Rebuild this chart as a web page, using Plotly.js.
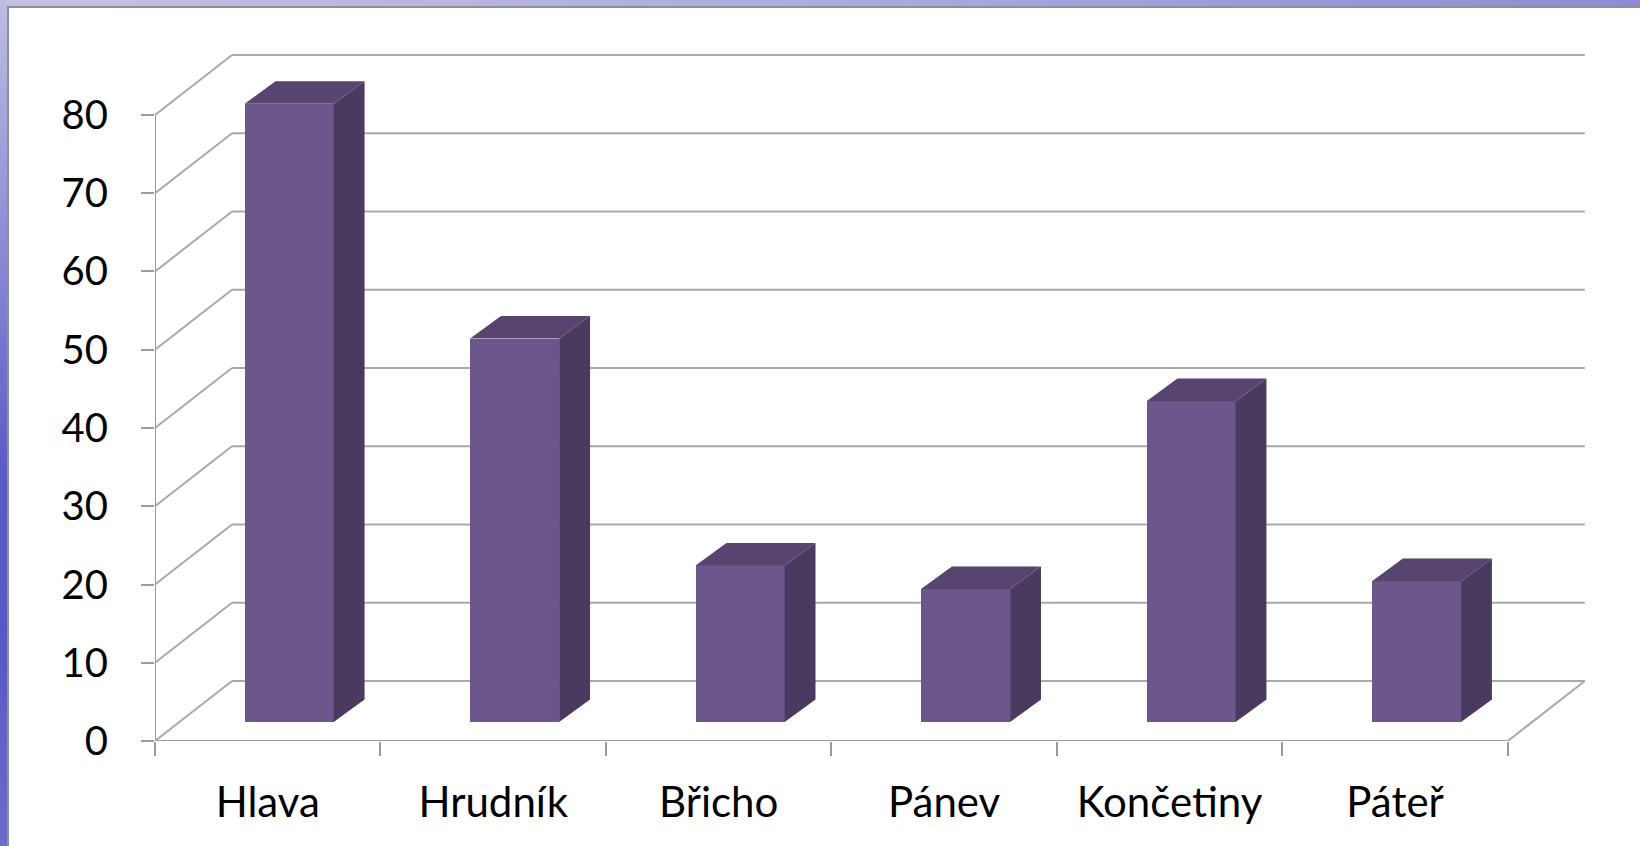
<!DOCTYPE html>
<html>
<head>
<meta charset="utf-8">
<script src="https://cdn.plot.ly/plotly-3.0.1.min.js"></script>
<style>
  html, body { margin: 0; padding: 0; width: 1640px; height: 846px; overflow: hidden; }
  body { position: relative; background: linear-gradient(to right, #c2c2e3 0%, #acacde 50%, #8c8cd5 100%); }
  #leftstrip { position: absolute; left: 0; top: 0; width: 8px; height: 846px;
    background: linear-gradient(to bottom, #bdbde2 0%, #8a8ad6 30%, #5c5cc6 55%, #5858c4 75%, #6c6ccc 100%); }
  #panel { position: absolute; left: 7px; top: 6px; right: 0; bottom: 0; background: #ffffff;
    border-left: 2px solid #8e8e96; border-top: 2px solid #8e8e96; }
  #chart { position: absolute; left: 0; top: 0; width: 1640px; height: 846px; }
</style>
</head>
<body>
<div id="leftstrip"></div>
<div id="panel"></div>
<div id="chart"></div>
<script>
// ---- data ----
const categories = ["Hlava", "Hrudník", "Břicho", "Pánev", "Končetiny", "Páteř"];
const values = [79, 49, 20, 17, 41, 18];
const yTickValues = [0, 10, 20, 30, 40, 50, 60, 70, 80];
const yTickLabels = ["0", "10", "20", "30", "40", "50", "60", "70", "80"];

// ---- 3D projection parameters (in axis units) ----
const WALL_DX = 0.3415, WALL_DY = 7.67;   // back wall offset
const FACE_DX = 0.095, FACE_DY = 2.43;    // bar front face offset
const SIDE_DX = 0.137, SIDE_DY = 2.88;    // bar depth
const BAR_W = 0.395;

const n = categories.length;
const centers = categories.map((c, i) => i);
const bounds = [];
for (let i = 0; i <= n; i++) bounds.push(i - 0.5);
const xL = -0.5, xR = n - 0.5;
const yMax = yTickValues[yTickValues.length - 1];

const gridColor = "#a9a9a9";
const shapes = [];
function seg(x0, y0, x1, y1, color, w) {
  shapes.push({type: "line", xref: "x", yref: "y", x0: x0, y0: y0, x1: x1, y1: y1,
    layer: "below", line: {color: color || gridColor, width: w || 2}});
}
// left side wall diagonals and back wall gridlines
yTickValues.forEach(v => {
  seg(xL, v, xL + WALL_DX, v + WALL_DY);
  seg(xL + WALL_DX, v + WALL_DY, xR + WALL_DX, v + WALL_DY);
});
// front floor edge, right floor edge, front vertical axis
seg(xL, 0, xR, 0, "#9a9a9a");
seg(xR, 0, xR + WALL_DX, WALL_DY);
seg(xL, 0, xL, yMax, "#9a9a9a");

// bar faces
const frontX = centers.map(c => c + FACE_DX);
const traces = [];
traces.push({
  type: "bar", x: frontX, y: values, base: categories.map(() => FACE_DY),
  width: BAR_W, marker: {color: "#6c578d", line: {width: 0}},
  hoverinfo: "skip", xaxis: "x", yaxis: "y"
});
const sideX = [], sideY = [], topX = [], topY = [];
values.forEach((v, i) => {
  const l = frontX[i] - BAR_W / 2, r = frontX[i] + BAR_W / 2;
  const b = FACE_DY, t = v + FACE_DY;
  sideX.push(r, r + SIDE_DX, r + SIDE_DX, r, r, null);
  sideY.push(b, b + SIDE_DY, t + SIDE_DY, t, b, null);
  topX.push(l, l + SIDE_DX, r + SIDE_DX, r, l, null);
  topY.push(t, t + SIDE_DY, t + SIDE_DY, t, t, null);
});
traces.push({type: "scatter", mode: "lines", x: sideX, y: sideY, fill: "toself",
  fillcolor: "#4a3a5f", line: {width: 0, color: "#4a3a5f"}, hoverinfo: "skip", connectgaps: false});
traces.push({type: "scatter", mode: "lines", x: topX, y: topY, fill: "toself",
  fillcolor: "#57446f", line: {width: 0, color: "#57446f"}, hoverinfo: "skip", connectgaps: false});
// invisible trace to carry the category label axis
traces.push({type: "scatter", mode: "markers", x: centers, y: centers.map(() => 0),
  marker: {opacity: 0}, hoverinfo: "skip", xaxis: "x2", yaxis: "y"});

const xRange = [xL, 5.9];
const yFont = {family: "Lato, 'Open Sans', sans-serif", size: 40, color: "#000000"};
const xFont = {family: "Lato, 'Open Sans', sans-serif", size: 42, color: "#000000"};
const layout = {
  width: 1640, height: 846,
  margin: {l: 155, r: 42, t: 52, b: 105, pad: 0},
  paper_bgcolor: "rgba(0,0,0,0)", plot_bgcolor: "rgba(0,0,0,0)",
  showlegend: false, bargap: 0,
  font: yFont,
  xaxis: {type: "linear", range: xRange, tickmode: "array", tickvals: bounds,
    ticks: "outside", ticklen: 14, tickwidth: 2, tickcolor: "#9a9a9a",
    showticklabels: false, showgrid: false, zeroline: false, showline: false, fixedrange: true},
  xaxis2: {type: "linear", range: xRange, overlaying: "x", anchor: "y", side: "bottom",
    tickmode: "array", tickvals: centers, ticktext: categories, ticks: "",
    ticklabelstandoff: 33, tickfont: xFont,
    showgrid: false, zeroline: false, showline: false, fixedrange: true},
  yaxis: {type: "linear", range: [0, 88.05], tickmode: "array", tickvals: yTickValues, ticktext: yTickLabels,
    ticks: "outside", ticklen: 13, tickwidth: 2, tickcolor: "#9a9a9a", ticklabelstandoff: 25,
    tickfont: yFont, showgrid: false, zeroline: false, showline: false, fixedrange: true},
  shapes: shapes
};
Plotly.newPlot("chart", traces, layout, {displayModeBar: false, staticPlot: true});
</script>
</body>
</html>
